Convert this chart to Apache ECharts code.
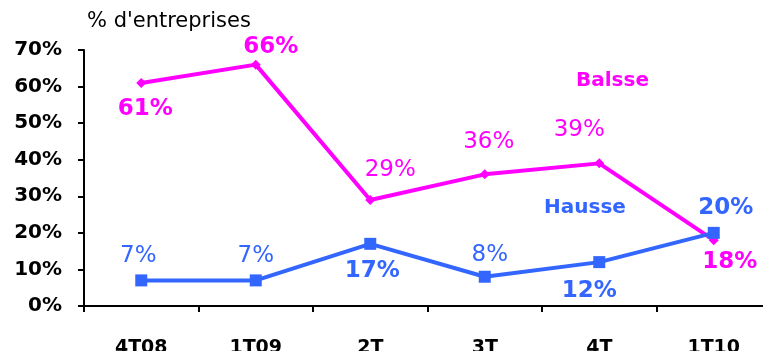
<!DOCTYPE html>
<html>
<head>
<meta charset="utf-8">
<script src="https://cdn.jsdelivr.net/npm/echarts@6/dist/echarts.min.js"></script>
<style>
  html, body { margin: 0; padding: 0; background: #fff; }
  #main { width: 763px; height: 351px; }
</style>
</head>
<body>
<div id="main"></div>
<script>
var categories = ['4T08', '1T09', '2T', '3T', '4T', '1T10']
var baisse = [61, 66, 29, 36, 39, 18]
var hausse = [7, 7, 17, 8, 12, 20]
var yTicks = [0, 10, 20, 30, 40, 50, 60, 70]

// label offsets from each point (px) and weight
var baisseLabel = [[4, 26, 'bold'], [15, -18, 'bold'], [20, -30, 'normal'], [4, -32, 'normal'], [-20, -33, 'normal'], [16, 22, 'bold']]
var hausseLabel = [[-3, -24, 'normal'], [0, -24, 'normal'], [2, 27, 'bold'], [5, -22, 'normal'], [-10, 29, 'bold'], [12, -25, 'bold']]

var FONT = 'DejaVu Sans'
var MAGENTA = '#ff00ff'
var BLUE = '#3366ff'

function build(values, labels, color) {
  return values.map(function (v, i) {
    return {
      value: v,
      label: {
        show: true,
        position: 'inside',
        offset: [labels[i][0], labels[i][1]],
        formatter: '{c}%',
        color: color,
        fontFamily: FONT,
        fontSize: 23,
        fontWeight: labels[i][2]
      }
    }
  })
}

var chart = echarts.init(document.getElementById('main'), null, { renderer: 'canvas' })

var option = {
  animation: false,
  backgroundColor: '#fff',
  grid: {
    left: 84,
    top: 50,
    width: 687,
    height: 256,
    containLabel: false,
    outerBoundsMode: 'none'
  },
  xAxis: {
    type: 'category',
    data: categories,
    boundaryGap: true,
    axisLine: { lineStyle: { color: '#000', width: 2 } },
    axisTick: { show: true, length: 6, lineStyle: { color: '#000', width: 2 } },
    axisLabel: { color: '#000', fontFamily: FONT, fontSize: 19, fontWeight: 'bold', margin: 33 }
  },
  yAxis: {
    type: 'value',
    min: yTicks[0],
    max: yTicks[yTicks.length - 1],
    interval: 10,
    axisLine: { show: true, lineStyle: { color: '#000', width: 2 } },
    axisTick: { show: true, length: 6, lineStyle: { color: '#000', width: 2 } },
    splitLine: { show: false },
    axisLabel: { formatter: '{value}%', color: '#000', fontFamily: FONT, fontSize: 20, fontWeight: 'bold', margin: 22 }
  },
  series: [
    {
      name: 'Balsse',
      type: 'line',
      data: build(baisse, baisseLabel, MAGENTA),
      symbol: 'diamond',
      symbolSize: 10,
      lineStyle: { color: MAGENTA, width: 4 },
      itemStyle: { color: MAGENTA }
    },
    {
      name: 'Hausse',
      type: 'line',
      data: build(hausse, hausseLabel, BLUE),
      symbol: 'rect',
      symbolSize: 12,
      lineStyle: { color: BLUE, width: 4 },
      itemStyle: { color: BLUE }
    }
  ],
  graphic: [
    {
      type: 'text', left: 87, top: 11,
      style: { text: "% d'entreprises", fill: '#000', font: 'normal 21px "DejaVu Sans"' }
    },
    {
      type: 'text', left: 576, top: 71,
      style: { text: 'Balsse', fill: MAGENTA, font: 'bold 20px "DejaVu Sans"' }
    },
    {
      type: 'text', left: 544, top: 198,
      style: { text: 'Hausse', fill: BLUE, font: 'bold 20px "DejaVu Sans"' }
    }
  ]
}

chart.setOption(option)
</script>
</body>
</html>
